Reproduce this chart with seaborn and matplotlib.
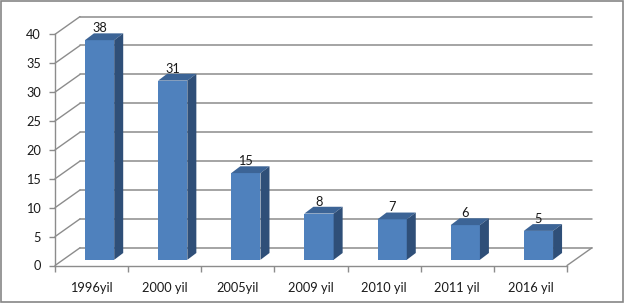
import numpy as np
import pandas as pd
import matplotlib
matplotlib.use('Agg')
import matplotlib.pyplot as plt
import matplotlib.transforms as mtransforms
from matplotlib.patches import Polygon, Rectangle
import seaborn as sns

categories = ["1996yil", "2000 yil", "2005yil", "2009 yil", "2010 yil", "2011 yil", "2016 yil"]
values = [38, 31, 15, 8, 7, 6, 5]
y_ticks = [0, 5, 10, 15, 20, 25, 30, 35, 40]

W, H, DPI = 626, 308, 100
sns.set_style('white')
plt.rcParams['font.family'] = ['Lato', 'DejaVu Sans']

FRONT = '#4F81BD'
TOP = '#3C6496'
SIDE = '#2F4F78'
GRID = '#8C8C8C'
TXT = '#1a1a1a'
FS = 9.2

fig = plt.figure(figsize=(W / DPI, H / DPI), dpi=DPI)
L, R, T, B = 55, 567, 34.3, 265.5
ax = fig.add_axes([L / W, (H - B) / H, (R - L) / W, (B - T) / H])

df = pd.DataFrame({'year': categories, 'count': values})
sns.barplot(data=df, x='year', y='count', color=FRONT, width=0.4,
            saturation=1, ax=ax, edgecolor='none', linewidth=0, zorder=3)

ax.set_xlim(-0.5, len(categories) - 0.5)
ax.set_ylim(0, 40)
ux = (len(categories)) / (R - L)
uy = 40 / (B - T)
back_dx, back_dy = 25 * ux, 17.7 * uy
front_dx, front_dy = 8 * ux, 5.7 * uy
depth_dx, depth_dy = 9 * ux, 6.8 * uy

x_lo, x_hi = -0.5, len(categories) - 0.5
for y in y_ticks:
    ax.plot([x_lo + back_dx, x_hi + back_dx], [y + back_dy] * 2, color=GRID,
            lw=1.1, clip_on=False, zorder=1)
    ax.plot([x_lo, x_lo + back_dx], [y, y + back_dy], color=GRID,
            lw=1.0, clip_on=False, zorder=1)
ax.plot([x_hi, x_hi + back_dx], [0, back_dy], color=GRID, lw=1.0,
        clip_on=False, zorder=1)

t_front = mtransforms.Affine2D().translate(front_dx, front_dy) + ax.transData
for p in list(ax.patches):
    x0 = p.get_x()
    x1 = x0 + p.get_width()
    h = p.get_height()
    p.set_transform(t_front)
    p.set_clip_on(False)
    top = Polygon([(x0, h), (x1, h), (x1 + depth_dx, h + depth_dy),
                   (x0 + depth_dx, h + depth_dy)], closed=True,
                  facecolor=TOP, edgecolor='none', transform=t_front,
                  clip_on=False, zorder=3)
    side = Polygon([(x1, 0), (x1, h), (x1 + depth_dx, h + depth_dy),
                    (x1 + depth_dx, depth_dy)], closed=True,
                   facecolor=SIDE, edgecolor='none', transform=t_front,
                   clip_on=False, zorder=3)
    ax.add_patch(top)
    ax.add_patch(side)
    ax.text((x0 + x1) / 2, h + depth_dy + 1.2 * uy, f"{h:g}", ha='center',
            va='baseline', fontsize=FS, color=TXT, transform=t_front,
            clip_on=False)

for s in ['top', 'right']:
    ax.spines[s].set_visible(False)
for s in ['left', 'bottom']:
    ax.spines[s].set_color(GRID)
    ax.spines[s].set_linewidth(1.0)

ax.set_yticks(y_ticks)
ax.set_yticklabels([str(v) for v in y_ticks])
ax.set_xticks(range(len(categories)))
ax.set_xticklabels(categories)
ax.set_xticks(np.arange(len(categories) + 1) - 0.5, minor=True)
ax.tick_params(axis='y', which='major', left=True, length=4, width=1.0,
               color=GRID, pad=6, labelsize=FS, labelcolor=TXT)
ax.tick_params(axis='x', which='major', length=0, pad=12, labelsize=FS,
               labelcolor=TXT)
ax.tick_params(axis='x', which='minor', bottom=True, length=4, width=1.0,
               color=GRID)
ax.set_xlabel('')
ax.set_ylabel('')
ax.set_facecolor('none')

fig.add_artist(Rectangle((1 / W, 6 / H), 622 / W, 301 / H,
                         transform=fig.transFigure, fill=False,
                         edgecolor='#868686', lw=1.2))

fig.savefig('out.png', dpi=DPI)
